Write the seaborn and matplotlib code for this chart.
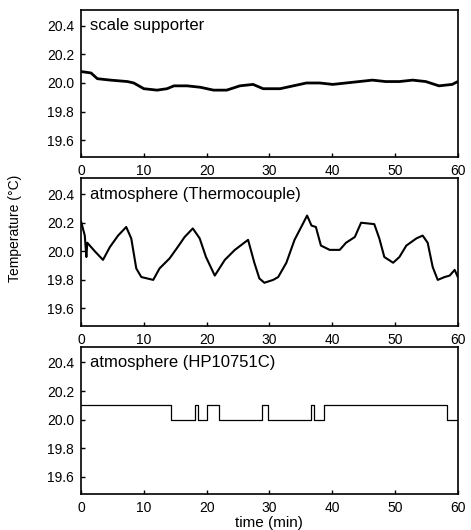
import numpy as np
import pandas as pd
import seaborn as sns
import matplotlib
matplotlib.use("Agg")
import matplotlib.pyplot as plt
import matplotlib.transforms as mtransforms

# scale supporter trace
t_scale = [0, 1.6, 2.6, 4.7, 7.4, 8.4, 10.0, 12.1, 13.7, 14.8, 16.9, 19.0, 21.1, 23.2,
           25.3, 27.4, 29.0, 31.7, 33.8, 35.9, 38.0, 40.1, 42.2, 44.3, 46.4, 48.5,
           50.7, 52.8, 54.9, 57.0, 59.1, 60.0]
v_scale = [20.08, 20.07, 20.03, 20.02, 20.01, 20.00, 19.96, 19.95, 19.96, 19.98, 19.98,
           19.97, 19.95, 19.95, 19.98, 19.99, 19.96, 19.96, 19.98, 20.00, 20.00, 19.99,
           20.00, 20.01, 20.02, 20.01, 20.01, 20.02, 20.01, 19.98, 19.99, 20.01]

# atmosphere, thermocouple
t_thermo = [0, 0.6, 0.85, 1.0, 2.2, 3.5, 4.6, 5.9, 7.2, 8.0, 8.8, 9.6, 11.5, 12.5, 14.1,
            15.4, 16.5, 17.8, 18.9, 19.9, 21.3, 22.9, 24.5, 26.6, 27.6, 28.4, 29.2, 30.6,
            31.4, 32.7, 34.0, 35.3, 36.0, 36.7, 37.4, 38.2, 39.6, 41.2, 42.2, 43.6, 44.6,
            46.7, 47.5, 48.3, 49.7, 50.7, 51.8, 53.4, 54.4, 55.2, 56.0, 56.8, 57.9, 58.7,
            59.5, 60.0]
v_thermo = [20.21, 20.11, 19.96, 20.06, 20.00, 19.94, 20.03, 20.11, 20.17, 20.09, 19.88,
            19.82, 19.80, 19.88, 19.95, 20.03, 20.10, 20.16, 20.09, 19.96, 19.83, 19.94,
            20.01, 20.08, 19.92, 19.81, 19.78, 19.80, 19.82, 19.92, 20.08, 20.19, 20.25,
            20.18, 20.17, 20.04, 20.01, 20.01, 20.06, 20.10, 20.20, 20.19, 20.09, 19.96,
            19.92, 19.96, 20.04, 20.09, 20.11, 20.06, 19.89, 19.80, 19.82, 19.83, 19.87,
            19.82]

# atmosphere, HP10751C (step changes)
t_hp = [0, 14.4, 18.2, 18.6, 20.0, 21.9, 28.8, 29.7, 36.6, 37.1, 38.7, 58.2, 60.0]
v_hp = [20.1, 20.0, 20.1, 20.0, 20.1, 20.0, 20.1, 20.0, 20.1, 20.0, 20.1, 20.0, 20.0]

panel_names = ["scale supporter", "atmosphere (Thermocouple)", "atmosphere (HP10751C)"]
yticks = [19.6, 19.8, 20.0, 20.2, 20.4]
xticks = [0, 10, 20, 30, 40, 50, 60]

sns.set_style("ticks")
plt.rcParams['font.family'] = ['Liberation Sans', 'DejaVu Sans']
plt.rcParams['text.color'] = 'black'
plt.rcParams['axes.labelcolor'] = 'black'

fig, axes = plt.subplots(3, 1, figsize=(4.71, 5.30), dpi=100)
fig.subplots_adjust(left=0.172, right=0.972, top=0.981, bottom=0.068, hspace=0.143)

series = [
    (pd.DataFrame({"t": t_scale, "T": v_scale}), 2.0, "default"),
    (pd.DataFrame({"t": t_thermo, "T": v_thermo}), 1.5, "default"),
    (pd.DataFrame({"t": t_hp, "T": v_hp}), 0.9, "steps-post"),
]

for ax, (df, lw, ds), name in zip(axes, series, panel_names):
    sns.lineplot(data=df, x="t", y="T", ax=ax, color="black", linewidth=lw,
                 drawstyle=ds, estimator=None, sort=False)
    ax.set_xlim(0, 60)
    ax.set_ylim(19.48, 20.51)
    ax.set_xticks(xticks)
    ax.set_yticks(yticks)
    ax.set_yticklabels(["%.1f" % v for v in yticks])
    ax.set_xlabel("")
    ax.set_ylabel("")
    ax.tick_params(direction="in", length=3, width=1, labelsize=10, pad=5,
                   colors="black")
    for s in ax.spines.values():
        s.set_visible(True)
        s.set_linewidth(1.2)
        s.set_color("black")
    trans = mtransforms.blended_transform_factory(ax.transAxes, ax.transData)
    ax.text(0.024, 20.4, name, transform=trans, va="center", ha="left",
            fontsize=12, color="black")

axes[2].set_xlabel("time (min)", fontsize=11, labelpad=1, color="black")
fig.text(15 / 471, 1 - 228 / 530, "Temperature (°C)", rotation=90,
         va="center", ha="center", fontsize=10, color="black")

fig.savefig("out.png", dpi=100)
